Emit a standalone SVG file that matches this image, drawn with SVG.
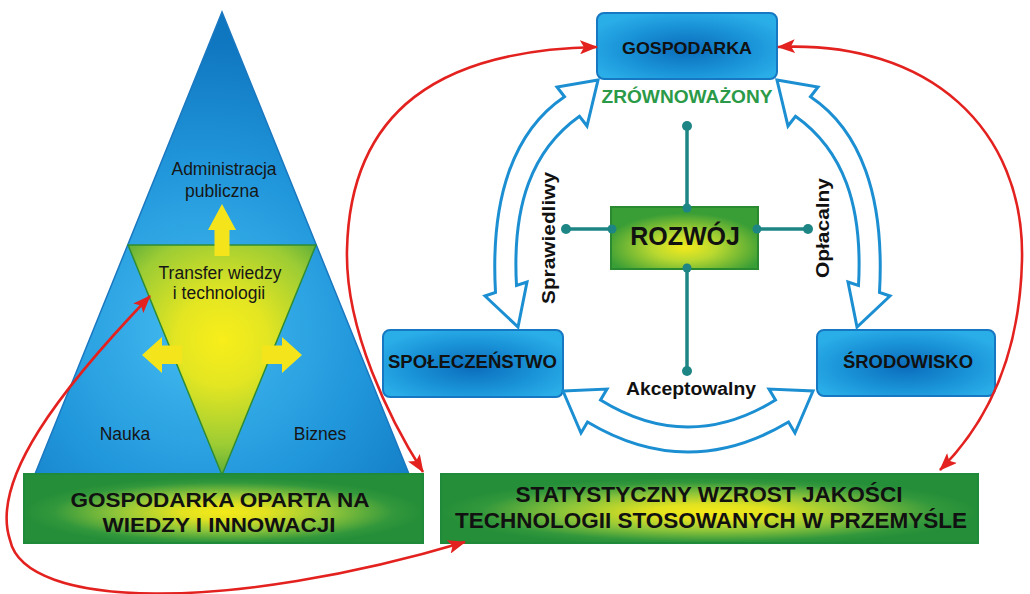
<svg xmlns="http://www.w3.org/2000/svg" width="1030" height="594" viewBox="0 0 1030 594">
  <defs>
    <radialGradient id="gBlueTri" gradientUnits="userSpaceOnUse" cx="200" cy="330" r="290">
      <stop offset="0" stop-color="#44bcf0"/>
      <stop offset="0.55" stop-color="#2298dc"/>
      <stop offset="1" stop-color="#0f76c0"/>
    </radialGradient>
    <radialGradient id="gGreenTri" gradientUnits="userSpaceOnUse" cx="222" cy="340" r="150">
      <stop offset="0" stop-color="#f8ee1a"/>
      <stop offset="0.3" stop-color="#e4e622"/>
      <stop offset="0.7" stop-color="#9ccc34"/>
      <stop offset="1" stop-color="#3f9e3a"/>
    </radialGradient>
    <radialGradient id="gBar" cx="0.5" cy="0.55" r="0.5">
      <stop offset="0" stop-color="#f4ea18"/>
      <stop offset="0.22" stop-color="#e2e220"/>
      <stop offset="0.55" stop-color="#8cc43a"/>
      <stop offset="0.85" stop-color="#33983c"/>
      <stop offset="1" stop-color="#248e38"/>
    </radialGradient>
    <radialGradient id="gCore" cx="0.5" cy="0.65" r="0.55">
      <stop offset="0" stop-color="#f2ea1c"/>
      <stop offset="0.4" stop-color="#b8d830"/>
      <stop offset="1" stop-color="#3a9e36"/>
    </radialGradient>
    <radialGradient id="gBox" cx="0.5" cy="0.55" r="0.6">
      <stop offset="0" stop-color="#0b6cbc"/>
      <stop offset="0.6" stop-color="#1a94d8"/>
      <stop offset="1" stop-color="#2aaee8"/>
    </radialGradient>
    <marker id="redHead" viewBox="0 0 18 14" refX="17" refY="7" markerWidth="18" markerHeight="14" markerUnits="userSpaceOnUse" orient="auto-start-reverse">
      <path d="M0,0 L18,7 L0,14 L4,7 z" fill="#e3221f"/>
    </marker>
    <style>
      text { font-family: "Liberation Sans", Arial, sans-serif; fill: #111; }
      .plain { font-size: 17.5px; text-anchor: middle; fill: #161616; }
      .bold { font-weight: bold; text-anchor: middle; }
      .box { fill: url(#gBox); stroke: #1678c2; stroke-width: 2; }
      .bar { fill: url(#gBar); stroke: #1f8a3a; stroke-width: 2; }
      .yel { fill: #f4e41c; }
      .red { fill: none; stroke: #e3221f; stroke-width: 2.6; marker-start: url(#redHead); marker-end: url(#redHead); }
      .hollow { fill: #ffffff; stroke: #1b8fd2; stroke-width: 3; stroke-linejoin: miter; }
      .spoke { stroke: #1e8585; stroke-width: 3.5; }
      .dot { fill: #1e8585; }
    </style>
  </defs>

  <rect width="1030" height="594" fill="#ffffff"/>

  <!-- pyramid: public administration, science, business -->
  <g id="pyramid">
    <polygon points="222,12 35,474 409,474" fill="url(#gBlueTri)" stroke="#1a78c0" stroke-width="1.5"/>
    <polygon points="128,245 316,245 222,475" fill="url(#gGreenTri)" stroke="#2e8c35" stroke-width="1.5"/>
    <text class="plain" x="224" y="175">Administracja</text>
    <text class="plain" x="222" y="197">publiczna</text>
    <text class="plain" x="220" y="279">Transfer wiedzy</text>
    <text class="plain" x="219" y="299">i technologii</text>
    <text class="plain" x="125" y="440">Nauka</text>
    <text class="plain" x="320" y="440">Biznes</text>
    <!-- yellow transfer arrows -->
    <polygon class="yel" points="222,204 236,230 229.5,230 229.5,256 214.5,256 214.5,230 208,230"/>
    <polygon class="yel" points="142,355 162,337 162,345.5 182,345.5 182,364 162,364 162,373"/>
    <polygon class="yel" points="302,355 282,337 282,345.5 262,345.5 262,364 282,364 282,373"/>
  </g>

  <g id="knowledge-economy">
    <rect class="bar" x="24" y="474" width="399" height="69"/>
    <text class="bold" x="220" y="507" font-size="21" textLength="299" lengthAdjust="spacingAndGlyphs">GOSPODARKA OPARTA NA</text>
    <text class="bold" x="219" y="532" font-size="21" textLength="233" lengthAdjust="spacingAndGlyphs">WIEDZY I INNOWACJI</text>
  </g>

  <g id="technology-quality">
    <rect class="bar" x="441" y="474" width="537" height="69"/>
    <text class="bold" x="709" y="502" font-size="22" textLength="387" lengthAdjust="spacingAndGlyphs">STATYSTYCZNY WZROST JAKOŚCI</text>
    <text class="bold" x="711" y="528" font-size="22" textLength="512" lengthAdjust="spacingAndGlyphs">TECHNOLOGII STOSOWANYCH W PRZEMYŚLE</text>
  </g>

  <g id="economy">
    <rect class="box" x="597" y="13" width="180" height="66" rx="7"/>
    <text class="bold" x="687" y="54" font-size="17" textLength="130" lengthAdjust="spacingAndGlyphs">GOSPODARKA</text>
  </g>

  <g id="society">
    <rect class="box" x="383" y="330" width="180" height="67" rx="7"/>
    <text class="bold" x="472.5" y="368" font-size="18" textLength="169" lengthAdjust="spacingAndGlyphs">SPOŁECZEŃSTWO</text>
  </g>

  <g id="environment">
    <rect class="box" x="817" y="330" width="178" height="66" rx="7"/>
    <text class="bold" x="908" y="368" font-size="18" textLength="130" lengthAdjust="spacingAndGlyphs">ŚRODOWISKO</text>
  </g>

  <g id="connectors">
    <!-- hollow double-headed arcs of the sustainability cycle -->
    <path id="arc-left" class="hollow" d="M598,80 L557,87 L564.5,96.75 C515,130 490,195 495.5,292.5 L485,296 L518,327 L527,282 L516.5,285.5 C512,205 532,150 579.5,116.25 L587,126 Z"/>
    <use href="#arc-left" transform="matrix(-1 0 0 1 1375 0)"/>
    <path class="hollow" d="M563,391 L607,389 L600.5,400 Q688,454 775.5,400 L769,389 L813,391 L795,433 L788.5,422 Q688,482 587.5,422 L581,433 Z"/>

    <!-- spokes of the development core -->
    <g id="spokes">
      <line class="spoke" x1="687" y1="126" x2="687" y2="371"/>
      <line class="spoke" x1="566" y1="229" x2="808" y2="229"/>
      <circle class="dot" cx="687" cy="126" r="5"/>
      <circle class="dot" cx="687" cy="371" r="5"/>
      <circle class="dot" cx="566" cy="229" r="5"/>
      <circle class="dot" cx="808" cy="229" r="5"/>
    </g>

    <!-- red feedback links -->
    <path class="red" d="M597,47 C440,50 350,110 347,250 C345,330 390,420 423,472"/>
    <path class="red" d="M778,47 C930,40 1025,130 1022,260 C1020,350 990,420 940,470"/>
    <path class="red" d="M150,296 C60,390 -10,480 10,540 C25,610 230,612 465,542"/>
  </g>

  <g id="development">
    <rect x="611" y="207" width="147" height="62" fill="url(#gCore)" stroke="#2a8a30" stroke-width="2"/>
    <circle class="dot" cx="687" cy="208" r="4.5"/>
    <circle class="dot" cx="687" cy="268" r="4.5"/>
    <circle class="dot" cx="612" cy="229" r="4.5"/>
    <circle class="dot" cx="757" cy="229" r="4.5"/>
    <text class="bold" x="685" y="245" font-size="25">ROZWÓJ</text>
  </g>

  <g id="labels">
    <text class="bold" x="687" y="103" font-size="18" style="fill:#2b9a48" textLength="171" lengthAdjust="spacingAndGlyphs">ZRÓWNOWAŻONY</text>
    <text class="bold" transform="translate(555,238) rotate(-90)" font-size="18" textLength="132" lengthAdjust="spacingAndGlyphs">Sprawiedliwy</text>
    <text class="bold" transform="translate(829,228) rotate(-90)" font-size="18" textLength="100" lengthAdjust="spacingAndGlyphs">Opłacalny</text>
    <text class="bold" x="691" y="395" font-size="18" textLength="130" lengthAdjust="spacingAndGlyphs">Akceptowalny</text>
  </g>
</svg>
